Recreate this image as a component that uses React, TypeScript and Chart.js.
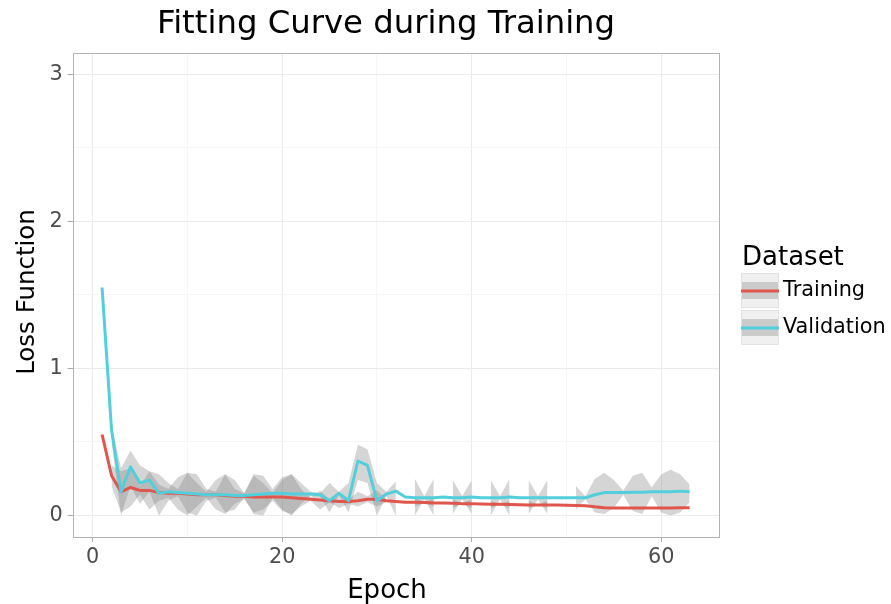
import React, { useEffect, useRef } from 'react';
import { Chart, registerables } from 'chart.js';

Chart.register(...registerables);

const epochs = [1, 2, 3, 4, 5, 6, 7, 8, 9, 10, 11, 12, 13, 14, 15, 16, 17, 18, 19, 20, 21, 22, 23, 24, 25, 26, 27, 28, 29, 30, 31, 32, 33, 34, 35, 36, 37, 38, 39, 40, 41, 42, 43, 44, 45, 46, 47, 48, 49, 50, 51, 52, 53, 54, 55, 56, 57, 58, 59, 60, 61, 62, 63];

const trainingLoss = [0.55, 0.27, 0.16, 0.19, 0.17, 0.17, 0.155, 0.15, 0.15, 0.145, 0.14, 0.14, 0.14, 0.135, 0.13, 0.13, 0.125, 0.125, 0.125, 0.125, 0.12, 0.115, 0.11, 0.105, 0.1, 0.095, 0.095, 0.1, 0.11, 0.11, 0.1, 0.095, 0.09, 0.09, 0.088, 0.085, 0.085, 0.082, 0.08, 0.08, 0.078, 0.076, 0.075, 0.074, 0.072, 0.071, 0.07, 0.07, 0.07, 0.069, 0.068, 0.066, 0.058, 0.052, 0.05, 0.05, 0.05, 0.05, 0.05, 0.05, 0.05, 0.052, 0.052];

const validationLoss = [1.55, 0.58, 0.16, 0.33, 0.22, 0.24, 0.15, 0.16, 0.155, 0.15, 0.145, 0.14, 0.14, 0.14, 0.135, 0.135, 0.14, 0.145, 0.15, 0.15, 0.145, 0.145, 0.145, 0.14, 0.1, 0.15, 0.1, 0.37, 0.34, 0.1, 0.145, 0.165, 0.125, 0.12, 0.12, 0.12, 0.125, 0.12, 0.12, 0.125, 0.12, 0.12, 0.12, 0.125, 0.12, 0.12, 0.12, 0.12, 0.12, 0.12, 0.12, 0.12, 0.14, 0.155, 0.155, 0.155, 0.158, 0.158, 0.16, 0.16, 0.16, 0.165, 0.16];

const trainingLow = [null, 0.2, 0.02, 0.06, 0.14, 0.04, 0.1, 0.12, 0.04, 0.0, 0.06, 0.12, 0.04, 0.01, 0.08, 0.11, 0.02, 0.04, 0.1, 0.03, 0.01, 0.06, 0.1, 0.04, 0.09, 0.05, 0.08, 0.06, 0.09, 0.06, 0.09, null, null, 0.06, 0.085, 0.06, null, 0.05, 0.08, 0.05, null, 0.05, 0.075, 0.05, null, 0.05, 0.07, 0.05, null, null, null, null, null, null, null, null, null, null, null, null, null, null, null];

const trainingHigh = [null, 0.34, 0.3, 0.32, 0.2, 0.3, 0.21, 0.18, 0.26, 0.29, 0.22, 0.16, 0.24, 0.28, 0.18, 0.15, 0.27, 0.22, 0.15, 0.24, 0.28, 0.18, 0.12, 0.17, 0.11, 0.16, 0.11, 0.16, 0.13, 0.17, 0.11, null, null, 0.12, 0.09, 0.12, null, 0.11, 0.085, 0.11, null, 0.1, 0.08, 0.1, null, 0.1, 0.075, 0.1, null, null, null, null, null, null, null, null, null, null, null, null, null, null, null];

const validationLow = [null, 0.5, 0.0, 0.2, 0.08, 0.16, 0.0, 0.1, 0.13, 0.02, 0.0, 0.1, 0.12, 0.02, 0.04, 0.12, 0.01, 0.0, 0.12, 0.04, 0.0, 0.08, 0.13, 0.13, 0.02, 0.14, 0.02, 0.24, 0.22, 0.0, 0.13, 0.0, null, 0.0, 0.11, 0.0, null, 0.01, 0.11, 0.01, null, 0.0, 0.11, 0.0, null, 0.01, 0.11, 0.01, null, null, 0.04, 0.11, 0.02, 0.01, 0.05, 0.14, 0.03, 0.01, 0.13, 0.02, 0.0, 0.02, 0.09];

const validationHigh = [null, 0.62, 0.32, 0.44, 0.34, 0.3, 0.28, 0.22, 0.18, 0.29, 0.28, 0.18, 0.16, 0.28, 0.24, 0.15, 0.28, 0.27, 0.18, 0.26, 0.28, 0.22, 0.16, 0.15, 0.22, 0.16, 0.22, 0.48, 0.45, 0.22, 0.16, 0.23, null, 0.25, 0.13, 0.25, null, 0.24, 0.13, 0.24, null, 0.24, 0.13, 0.25, null, 0.24, 0.13, 0.24, null, null, 0.2, 0.13, 0.25, 0.29, 0.24, 0.17, 0.27, 0.29, 0.19, 0.28, 0.31, 0.28, 0.21];

const xTickLabels = ['0', '20', '40', '60'];
const yTickLabels = ['0', '1', '2', '3'];
const seriesNames = ['Training', 'Validation'];

const FONT = "'DejaVu Sans', sans-serif";
const RED = '#DF564C';
const CYAN = '#52CFDB';
const RIBBON = 'rgba(128,128,128,0.33)';

const pts = (vals: (number | null)[]) => epochs.map((e, i) => ({ x: e, y: vals[i] }));

const decorPlugin = {
  id: 'decor',
  afterDraw(chart: any) {
    const { ctx, chartArea: a } = chart;
    ctx.save();
    // panel border
    ctx.strokeStyle = '#B3B3B3';
    ctx.lineWidth = 1;
    ctx.strokeRect(Math.round(a.left) + 0.5, Math.round(a.top) + 0.5, Math.round(a.right - a.left), Math.round(a.bottom - a.top));

    // title
    ctx.fillStyle = '#000000';
    ctx.font = `32.3px ${FONT}`;
    ctx.textAlign = 'center';
    ctx.textBaseline = 'alphabetic';
    ctx.fillText('Fitting Curve during Training', 386, 33);

    // axis titles
    ctx.font = `26px ${FONT}`;
    ctx.fillText('Epoch', 387, 598);
    ctx.save();
    ctx.translate(34, 292);
    ctx.rotate(-Math.PI / 2);
    ctx.font = `24.5px ${FONT}`;
    ctx.fillText('Loss Function', 0, 0);
    ctx.restore();

    // legend
    ctx.textAlign = 'left';
    ctx.font = `26px ${FONT}`;
    ctx.fillText('Dataset', 742, 265);
    const keys = [
      { y: 273, color: RED, label: seriesNames[0] },
      { y: 310, color: CYAN, label: seriesNames[1] },
    ];
    keys.forEach((k) => {
      const kx = 741;
      const kw = 38;
      const kh = 35;
      ctx.fillStyle = '#F0F0F0';
      ctx.fillRect(kx, k.y, kw, kh);
      ctx.strokeStyle = '#E2E2E2';
      ctx.lineWidth = 1;
      ctx.strokeRect(kx + 0.5, k.y + 0.5, kw - 1, kh - 1);
      ctx.fillStyle = '#CBCBCB';
      ctx.fillRect(kx + 1, k.y + 9, kw - 2, 17);
      ctx.strokeStyle = k.color;
      ctx.lineWidth = 3;
      ctx.beginPath();
      ctx.moveTo(kx, k.y + 18);
      ctx.lineTo(kx + kw, k.y + 18);
      ctx.stroke();
      ctx.fillStyle = '#000000';
      ctx.font = `20.8px ${FONT}`;
      ctx.textBaseline = 'middle';
      ctx.fillText(k.label, 783, k.y + 18);
      ctx.textBaseline = 'alphabetic';
    });
    ctx.restore();
  },
};

export default function App() {
  const ref = useRef<HTMLCanvasElement>(null);

  useEffect(() => {
    if (!ref.current) return;
    const ribbonLine = {
      borderWidth: 0,
      borderColor: 'rgba(0,0,0,0)',
      pointRadius: 0,
      tension: 0,
      spanGaps: false,
    };
    const chart = new Chart(ref.current, {
      type: 'line',
      data: {
        datasets: [
          { ...ribbonLine, label: 'trainLow', data: pts(trainingLow), fill: false, order: 2 },
          { ...ribbonLine, label: 'trainHigh', data: pts(trainingHigh), fill: '-1', backgroundColor: RIBBON, order: 2 },
          { ...ribbonLine, label: 'valLow', data: pts(validationLow), fill: false, order: 3 },
          { ...ribbonLine, label: 'valHigh', data: pts(validationHigh), fill: '-1', backgroundColor: RIBBON, order: 3 },
          {
            label: seriesNames[0],
            data: pts(trainingLoss),
            borderColor: RED,
            borderWidth: 3,
            pointRadius: 0,
            tension: 0,
            fill: false,
            order: 1,
            borderJoinStyle: 'round',
          },
          {
            label: seriesNames[1],
            data: pts(validationLoss),
            borderColor: CYAN,
            borderWidth: 3,
            pointRadius: 0,
            tension: 0,
            fill: false,
            order: 0,
            borderJoinStyle: 'round',
          },
        ],
      },
      options: {
        animation: false,
        responsive: false,
        events: [],
        layout: { padding: { left: 22.7, right: 172, top: 52.7, bottom: 27 } },
        plugins: {
          legend: { display: false },
          title: { display: false },
          tooltip: { enabled: false },
        },
        scales: {
          x: {
            type: 'linear',
            min: -2.1,
            max: 66.1,
            afterFit: (s: any) => {
              s.height = 40;
            },
            border: { display: false },
            grid: {
              color: (c: any) => (c.tick && c.tick.value % 20 === 0 ? '#EBEBEB' : '#F6F6F6'),
              tickColor: (c: any) => (c.tick && c.tick.value % 20 === 0 ? '#A8A8A8' : 'rgba(0,0,0,0)'),
              tickLength: 5,
              lineWidth: 1,
            },
            ticks: {
              stepSize: 10,
              includeBounds: false,
              autoSkip: false,
              maxRotation: 0,
              padding: 3,
              color: '#4D4D4D',
              font: { family: FONT, size: 20.8 },
              callback: (v: any) => {
                const s = String(v);
                return xTickLabels.includes(s) ? s : '';
              },
            },
          },
          y: {
            type: 'linear',
            min: -0.147,
            max: 3.147,
            afterFit: (s: any) => {
              s.width = 50;
            },
            border: { display: false },
            grid: {
              color: (c: any) => (c.tick && Number.isInteger(c.tick.value) ? '#EBEBEB' : '#F6F6F6'),
              tickColor: (c: any) => (c.tick && Number.isInteger(c.tick.value) ? '#A8A8A8' : 'rgba(0,0,0,0)'),
              tickLength: 5,
              lineWidth: 1,
            },
            ticks: {
              stepSize: 0.5,
              includeBounds: false,
              autoSkip: false,
              padding: 5,
              color: '#4D4D4D',
              font: { family: FONT, size: 20.8 },
              callback: (v: any) => {
                const s = String(v);
                return yTickLabels.includes(s) ? s : '';
              },
            },
          },
        },
      },
      plugins: [decorPlugin],
    } as any);
    return () => chart.destroy();
  }, []);

  return (
    <div style={{ position: 'fixed', left: 0, top: 0, width: 891, height: 604, background: '#FFFFFF' }}>
      <canvas ref={ref} width={891} height={604} style={{ display: 'block' }} />
    </div>
  );
}
